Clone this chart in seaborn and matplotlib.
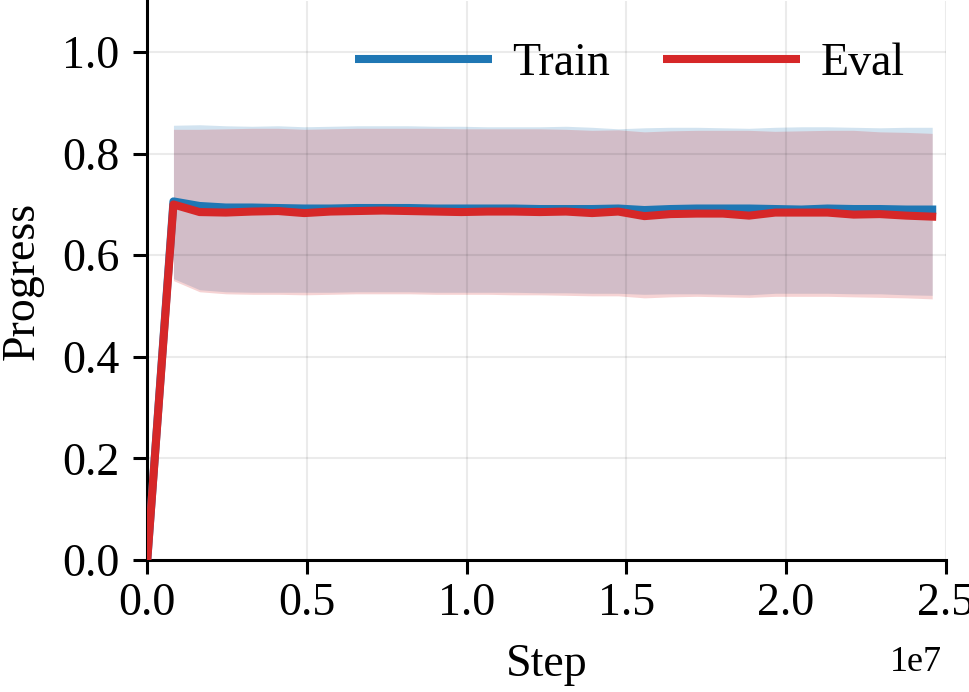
import numpy as np
import pandas as pd
import seaborn as sns
from matplotlib import pyplot as plt

nan = np.nan

# step values (x axis), one eval every 819200 steps
steps = [i * 819200 for i in range(31)]

train_mean = [0.0, 0.706, 0.697, 0.694, 0.694, 0.693, 0.692, 0.692, 0.693, 0.693,
              0.693, 0.692, 0.692, 0.692, 0.692, 0.691, 0.691, 0.691, 0.692, 0.689,
              0.691, 0.692, 0.692, 0.692, 0.691, 0.690, 0.692, 0.691, 0.691, 0.690, 0.690]
eval_mean = [0.0, 0.700, 0.685, 0.684, 0.686, 0.687, 0.683, 0.686, 0.687, 0.688,
             0.687, 0.686, 0.685, 0.686, 0.686, 0.685, 0.686, 0.683, 0.686, 0.677,
             0.681, 0.682, 0.682, 0.678, 0.684, 0.684, 0.684, 0.680, 0.681, 0.678, 0.676]

train_upper = [nan, 0.856, 0.857, 0.855, 0.854, 0.855, 0.853, 0.854, 0.855, 0.855,
               0.855, 0.854, 0.854, 0.853, 0.853, 0.853, 0.854, 0.852, 0.849, 0.851,
               0.852, 0.852, 0.851, 0.850, 0.852, 0.853, 0.853, 0.852, 0.851, 0.852, 0.852]
train_lower = [nan, 0.554, 0.532, 0.528, 0.527, 0.527, 0.527, 0.527, 0.528, 0.528,
               0.528, 0.527, 0.527, 0.527, 0.527, 0.526, 0.526, 0.525, 0.525, 0.523,
               0.524, 0.524, 0.523, 0.522, 0.525, 0.525, 0.525, 0.524, 0.524, 0.522, 0.521]
eval_upper = [nan, 0.848, 0.848, 0.849, 0.850, 0.850, 0.848, 0.849, 0.850, 0.850,
              0.850, 0.850, 0.849, 0.849, 0.849, 0.849, 0.848, 0.846, 0.847, 0.843,
              0.845, 0.846, 0.846, 0.846, 0.844, 0.845, 0.846, 0.846, 0.843, 0.842, 0.840]
eval_lower = [nan, 0.550, 0.528, 0.524, 0.523, 0.523, 0.522, 0.523, 0.524, 0.524,
              0.524, 0.523, 0.523, 0.523, 0.522, 0.522, 0.521, 0.520, 0.520, 0.516,
              0.518, 0.519, 0.518, 0.517, 0.519, 0.519, 0.519, 0.518, 0.517, 0.516, 0.514]

sns.set_style("ticks")
plt.rcParams["font.family"] = ["Liberation Serif", "DejaVu Serif"]
for k in ["text.color", "axes.labelcolor", "xtick.color", "ytick.color", "axes.edgecolor"]:
    plt.rcParams[k] = "black"

df = pd.DataFrame({
    "Step": steps * 2,
    "Progress": train_mean + eval_mean,
    "split": ["Train"] * len(steps) + ["Eval"] * len(steps),
})

colors = {"Train": "#1f77b4", "Eval": "#d62728"}
FS = 33

fig, ax = plt.subplots(figsize=(9.69, 6.92), dpi=100)
fig.subplots_adjust(left=0.152, right=0.976, bottom=0.191, top=0.998)

ax.fill_between(steps, train_lower, train_upper, color=colors["Train"], alpha=0.2, lw=0, zorder=1)
ax.fill_between(steps, eval_lower, eval_upper, color=colors["Eval"], alpha=0.2, lw=0, zorder=1)

sns.lineplot(data=df, x="Step", y="Progress", hue="split", palette=colors,
             linewidth=5.8, ax=ax, zorder=3)
for line in ax.get_lines():
    line.set_solid_capstyle("projecting")

ax.set_xlim(0, 2.5e7)
ax.set_ylim(0, 1.1)
ax.set_yticks([0.0, 0.2, 0.4, 0.6, 0.8, 1.0])
ax.set_xticks([0, 0.5e7, 1.0e7, 1.5e7, 2.0e7, 2.5e7])
ax.grid(True, color="black", alpha=0.08, linewidth=1.5)
ax.set_axisbelow("line")

ax.set_xlabel("Step", fontsize=FS, labelpad=14)
ax.set_ylabel("Progress", fontsize=FS, labelpad=13)
ax.tick_params(axis="both", labelsize=FS, width=2.2, length=10)
ax.tick_params(axis="x", pad=6)
ax.tick_params(axis="y", pad=10)

# offset text drawn by hand so it can sit lower, like the reference
ax.xaxis.get_offset_text().set_visible(False)
ax.text(0.995, -0.155, "1e7", transform=ax.transAxes, ha="right", va="top", fontsize=26)

sns.despine(ax=ax)
for s in ["left", "bottom"]:
    ax.spines[s].set_linewidth(2.2)

leg = ax.legend(loc="upper right", ncol=2, frameon=False, fontsize=FS,
                handlelength=3.0, handletextpad=0.44, columnspacing=1.15,
                bbox_to_anchor=(1.0, 1.0), title=None)
for line in leg.get_lines():
    line.set_linewidth(5.8)
    line.set_solid_capstyle("butt")

plt.savefig("out.png", dpi=100)
